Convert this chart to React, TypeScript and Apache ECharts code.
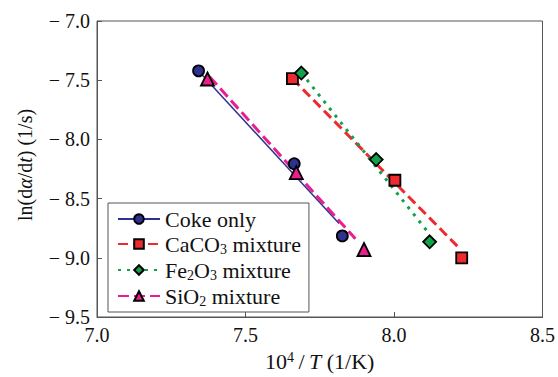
import React, { useEffect, useRef } from "react";
import * as echarts from "echarts";

const seriesNames = ["Coke only", "CaCO3 mixture", "Fe2O3 mixture", "SiO2 mixture"];
const cokePoints = [[7.342, -7.421], [7.664, -8.205], [7.826, -8.815]];
const caco3Points = [[7.658, -7.487], [8.003, -8.345], [8.228, -9.0]];
const fe2o3Points = [[7.688, -7.44], [7.94, -8.17], [8.12, -8.865]];
const sio2Points = [[7.372, -7.49], [7.671, -8.28], [7.899, -8.93]];
const cokeFit = [[7.345, -7.43], [7.815, -8.71]];
const caco3Fit = [[7.658, -7.487], [8.218, -8.914]];
const fe2o3Fit = [[7.688, -7.437], [8.114, -8.782]];
const sio2Fit = [[7.379, -7.47], [7.87, -8.84]];
const xTicks = { min: 7.0, max: 8.5, interval: 0.5 };
const yTicks = { min: -9.5, max: -7.0, interval: 0.5 };

const colors = ["#2e3192", "#ee2a2f", "#10a24a", "#ea1e8c"];
const symbols = ["circle", "rect", "diamond", "triangle"];
const symbolSizes = [11, 11, 13, 13];
const lineTypes: any[] = ["solid", [10, 5], [3, 6], [11, 5]];
const lineWidths = [1.5, 3, 3, 3];

const FONT = "Liberation Serif, Times New Roman, serif";

export default function App() {
  const ref = useRef<HTMLDivElement>(null);
  useEffect(() => {
    if (!ref.current) return;
    const chart = echarts.init(ref.current, undefined, { renderer: "svg" });
    const pts = [cokePoints, caco3Points, fe2o3Points, sio2Points];
    const fits = [cokeFit, caco3Fit, fe2o3Fit, sio2Fit];
    const series: any[] = [];
    seriesNames.forEach((name, i) => {
      series.push({
        name,
        type: "line",
        data: fits[i],
        symbol: symbols[i],
        symbolSize: symbolSizes[i],
        showSymbol: false,
        lineStyle: { color: colors[i], width: lineWidths[i], type: lineTypes[i] },
        itemStyle: { color: colors[i], borderColor: "#000", borderWidth: 1.5 },
        z: 2,
      });
    });
    seriesNames.forEach((name, i) => {
      series.push({
        name,
        type: "scatter",
        data: pts[i],
        symbol: symbols[i],
        symbolSize: symbolSizes[i],
        itemStyle: { color: colors[i], borderColor: "#000", borderWidth: 1.8, opacity: 1 },
        z: 3,
      });
    });
    const fmtName = (name: string) => {
      if (name === "CaCO3 mixture") return "{n|CaCO}{sub|3}{n| mixture}";
      if (name === "Fe2O3 mixture") return "{n|Fe}{sub|2}{n|O}{sub|3}{n| mixture}";
      if (name === "SiO2 mixture") return "{n|SiO}{sub|2}{n| mixture}";
      return "{n|" + name + "}";
    };
    chart.setOption({
      animation: false,
      backgroundColor: "#fff",
      textStyle: { fontFamily: FONT },
      grid: { left: 97, top: 21, right: 14, bottom: 53, show: true, borderColor: "#555", borderWidth: 1 },
      graphic: [
        {
          type: "text",
          x: 25,
          y: 165,
          rotation: Math.PI / 2,
          style: {
            text: "{n|ln(d}{i|α}{n|/d}{i|t}{n|) (1/s)}",
            align: "center",
            verticalAlign: "middle",
            fill: "#111",
            font: "20px Liberation Serif",
            rich: {
              n: { fontSize: 20, fontFamily: "Liberation Serif", fill: "#111", color: "#111" },
              i: { fontSize: 20, fontFamily: "Liberation Serif", fill: "#111", color: "#111", fontStyle: "italic" },
            },
          },
        },
      ],
      legend: {
        data: seriesNames,
        left: 108,
        top: 203,
        orient: "vertical",
        backgroundColor: "#fff",
        borderColor: "#555",
        borderWidth: 1,
        borderRadius: 0,
        padding: [5, 8, 4, 9],
        itemWidth: 42,
        itemHeight: 12,
        itemGap: 2,
        formatter: fmtName,
        textStyle: {
          fontFamily: FONT,
          fontSize: 22,
          color: "#111",
          rich: {
            n: { fontSize: 22, fontFamily: FONT, color: "#111", lineHeight: 24 },
            sub: { fontSize: 14, fontFamily: FONT, color: "#111", verticalAlign: "bottom", lineHeight: 14, padding: [10, 0, 0, 0] },
          },
        },
      },
      xAxis: {
        type: "value",
        min: xTicks.min,
        max: xTicks.max,
        interval: xTicks.interval,
        name: "{n|10}{sup|4}{n|\u2009/\u2009}{i|T}{n| (1/K)}",
        nameLocation: "middle",
        nameGap: 33,
        nameTextStyle: {
          fontFamily: FONT,
          rich: {
            n: { fontSize: 22, fontFamily: FONT, color: "#111" },
            i: { fontSize: 22, fontFamily: FONT, color: "#111", fontStyle: "italic" },
            sup: { fontSize: 14, fontFamily: FONT, color: "#111", verticalAlign: "top", padding: [0, 0, 8, 0] },
          },
        },
        axisLine: { lineStyle: { color: "#555", width: 1 } },
        axisTick: { inside: true, length: 5, lineStyle: { color: "#555" } },
        axisLabel: { fontSize: 20, fontFamily: FONT, color: "#111", margin: 8, formatter: (v: number) => v.toFixed(1) },
        splitLine: { show: false },
      },
      yAxis: {
        type: "value",
        min: yTicks.min,
        max: yTicks.max,
        interval: yTicks.interval,
        axisLine: { lineStyle: { color: "#555", width: 1 } },
        axisTick: { inside: true, length: 5, lineStyle: { color: "#555" } },
        axisLabel: {
          fontSize: 20,
          fontFamily: FONT,
          color: "#111",
          margin: 7,
          formatter: (v: number) => (v < 0 ? "\u2212 " + Math.abs(v).toFixed(1) : v.toFixed(1)),
        },
        splitLine: { show: false },
      },
      series,
    });
    return () => chart.dispose();
  }, []);
  return <div ref={ref} style={{ width: 558, height: 377, position: "absolute", left: 0, top: 0 }} />;
}
